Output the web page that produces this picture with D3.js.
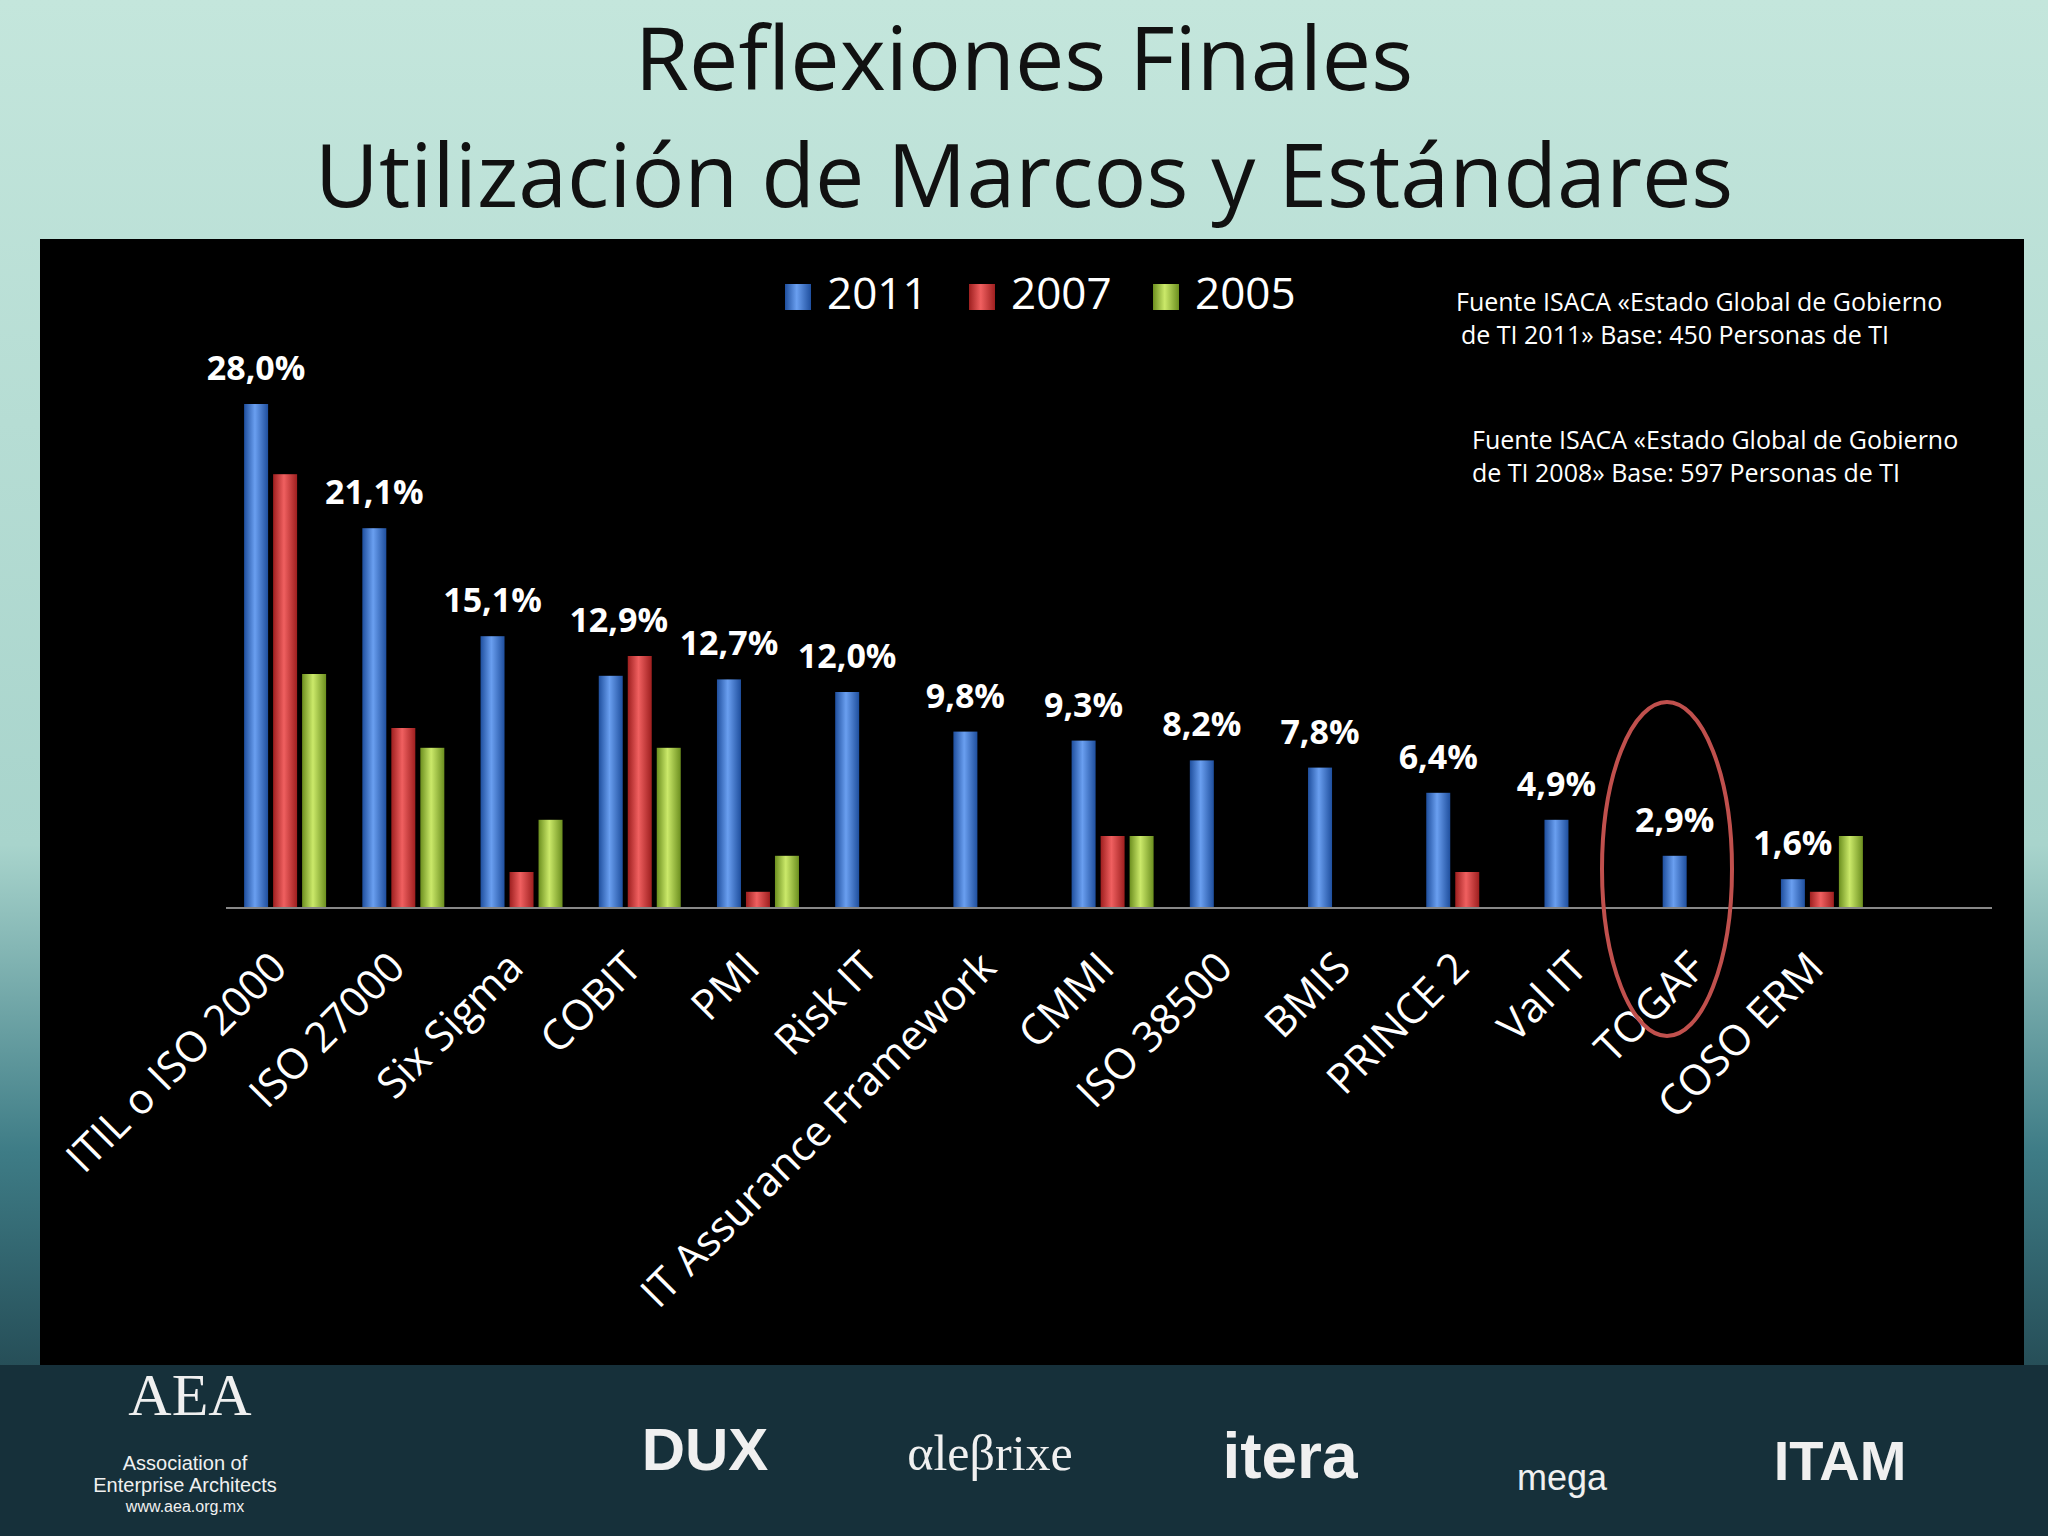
<!DOCTYPE html>
<html><head><meta charset="utf-8">
<script src="https://cdn.jsdelivr.net/npm/d3@7/dist/d3.min.js"></script>
<style>body{margin:0;overflow:hidden}</style>
</head><body>
<svg id="chart" width="2048" height="1536"></svg>
<script>
const categories = ["ITIL o ISO 2000","ISO 27000","Six Sigma","COBIT","PMI","Risk IT","IT Assurance Framework","CMMI","ISO 38500","BMIS","PRINCE 2","Val IT","TOGAF","COSO ERM"];
const years = ["2011","2007","2005"];
const v2011 = [28.0,21.1,15.1,12.9,12.7,12.0,9.8,9.3,8.2,7.8,6.4,4.9,2.9,1.6];
const v2007 = [24.1,10.0,2.0,14.0,0.9,null,null,4.0,null,null,2.0,null,null,0.9];
const v2005 = [13.0,8.9,4.9,8.9,2.9,null,null,4.0,null,null,null,null,null,4.0];
const colors = {"2011":["#1f4f9e","#6a9ff0"],"2007":["#9e1f1f","#f06060"],"2005":["#6c8f1f","#cbe96a"]};

const svg = d3.select("#chart");
const defs = svg.append("defs");
const bg = defs.append("linearGradient").attr("id","bg").attr("x1",0).attr("y1",0).attr("x2",0).attr("y2",1);
bg.append("stop").attr("offset","0").attr("stop-color","#c4e6dc");
bg.append("stop").attr("offset","0.55").attr("stop-color","#a8d4cc");
bg.append("stop").attr("offset","0.75").attr("stop-color","#3e7c86");
bg.append("stop").attr("offset","1").attr("stop-color","#132a33");
svg.append("rect").attr("width",2048).attr("height",1536).attr("fill","url(#bg)");
svg.append("rect").attr("y",1365).attr("width",2048).attr("height",171).attr("fill","#16303a");
years.forEach(y=>{
  const g = defs.append("linearGradient").attr("id","g"+y);
  g.append("stop").attr("offset","0").attr("stop-color",colors[y][0]);
  g.append("stop").attr("offset","0.45").attr("stop-color",colors[y][1]);
  g.append("stop").attr("offset","1").attr("stop-color",colors[y][0]);
});

svg.append("text").attr("x",1024).attr("y",90).attr("text-anchor","middle")
  .attr("font-family","Open Sans").attr("font-size",88).attr("fill","#111").text("Reflexiones Finales");
svg.append("text").attr("x",1024).attr("y",207).attr("text-anchor","middle")
  .attr("font-family","Open Sans").attr("font-size",88).attr("fill","#111").text("Utilización de Marcos y Estándares");

svg.append("rect").attr("x",40).attr("y",239).attr("width",1984).attr("height",1126).attr("fill","#000");

const base = 908;
const bw = 24;
const x0 = d3.scaleBand().domain(categories).range([226,1881]);
const x1 = d3.scalePoint().domain(years).range([-29,29]);
const y = d3.scaleLinear().domain([0,28]).range([base,404]);
const cx = (c,yr) => x0(c)+x0.bandwidth()/2+x1(yr);

const series = {"2011":v2011,"2007":v2007,"2005":v2005};
years.forEach(yr=>{
  svg.append("g").selectAll("rect").data(series[yr].map((v,i)=>({v,c:categories[i]})).filter(d=>d.v!=null))
    .join("rect")
    .attr("x",d=>cx(d.c,yr)-bw/2)
    .attr("width",bw)
    .attr("y",d=>y(d.v)).attr("height",d=>base-y(d.v))
    .attr("fill","url(#g"+yr+")");
});
svg.append("line").attr("x1",226).attr("x2",1992).attr("y1",base).attr("y2",base).attr("stroke","#888").attr("stroke-width",2);

// labels sit above the 2011 bar (COBIT above its taller 2007 bar)
svg.append("g").selectAll("text").data(v2011).join("text")
  .attr("x",(d,i)=>cx(categories[i],"2011")+(i==3?8:0))
  .attr("y",(d,i)=>y(i==3?Math.max(d,v2007[i]):d)-24)
  .attr("text-anchor","middle").attr("font-family","Open Sans").attr("font-weight","bold")
  .attr("font-size",34).attr("fill","#fff").text(d=>d.toFixed(1).replace(".",",")+"%");

svg.append("g").selectAll("text").data(categories).join("text")
  .attr("transform",c=>`translate(${x0(c)+x0.bandwidth()/2+4},${base+62}) rotate(-45)`)
  .attr("text-anchor","end").attr("font-family","Open Sans").attr("font-size",42).attr("fill","#fff").text(c=>c);

const lg = svg.append("g").attr("transform","translate(785,276)");
years.forEach((yr,i)=>{
  lg.append("rect").attr("x",i*184).attr("y",8).attr("width",26).attr("height",26).attr("fill","url(#g"+yr+")");
  lg.append("text").attr("x",i*184+42).attr("y",33).attr("font-family","Open Sans").attr("font-size",44).attr("fill","#fff").text(yr);
});

const notes = [[1456,311,"Fuente ISACA «Estado Global de Gobierno"],[1461,344,"de TI 2011»  Base: 450  Personas de TI"],
  [1472,449,"Fuente ISACA «Estado Global de Gobierno"],[1472,482,"de TI 2008»  Base: 597  Personas de TI"]];
svg.append("g").selectAll("text").data(notes).join("text").attr("x",d=>d[0]).attr("y",d=>d[1])
  .attr("font-family","Open Sans").attr("font-size",25).attr("fill","#fff").text(d=>d[2]);

svg.append("ellipse").attr("cx",1667).attr("cy",869).attr("rx",65).attr("ry",167)
  .attr("fill","none").attr("stroke","#c0504d").attr("stroke-width",4);

const logos = [[190,1415,"AEA",60,"serif"],[185,1470,"Association of",20,"Liberation Sans"],[185,1492,"Enterprise Architects",20,"Liberation Sans"],[185,1512,"www.aea.org.mx",16,"Liberation Sans"],
  [705,1470,"DUX",60,"Liberation Sans"],[990,1470,"αleβrixe",50,"serif"],[1290,1478,"itera",64,"Liberation Sans"],[1562,1490,"mega",36,"Liberation Sans"],[1840,1480,"ITAM",56,"Liberation Sans"]];
svg.append("g").selectAll("text").data(logos).join("text").attr("x",d=>d[0]).attr("y",d=>d[1]).attr("text-anchor","middle")
  .attr("font-family",d=>d[4]).attr("font-weight",d=>d[3]>40&&d[4]!="serif"?"bold":"normal").attr("font-size",d=>d[3]).attr("fill","#f0f0f0").text(d=>d[2]);
</script>
</body></html>
